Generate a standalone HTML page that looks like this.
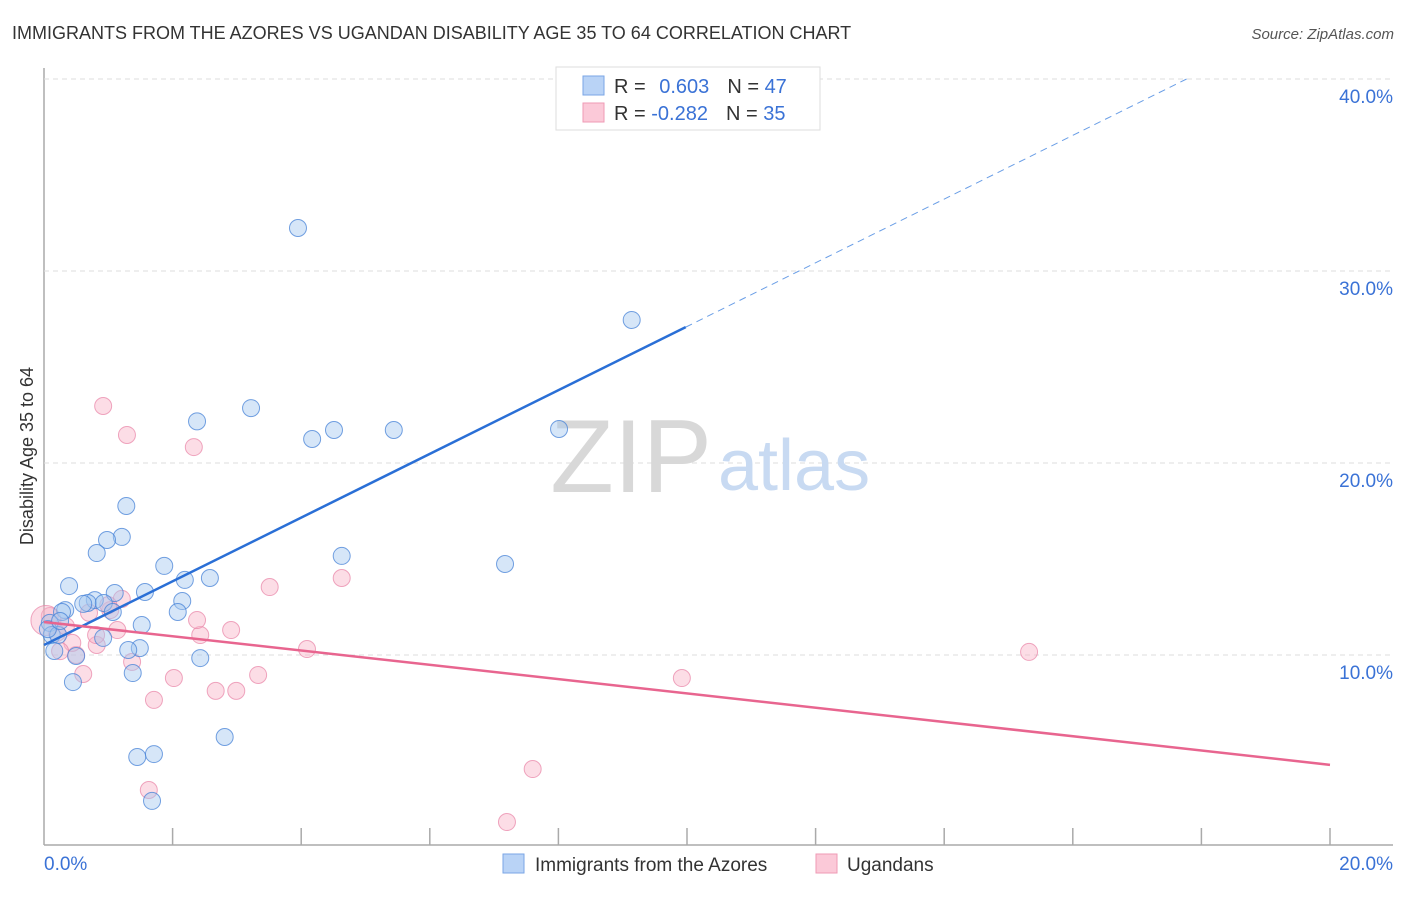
<!DOCTYPE html>
<html><head><meta charset="utf-8"><style>
body{margin:0;background:#fff;font-family:"Liberation Sans",sans-serif;}
svg text{font-family:"Liberation Sans",sans-serif;}
</style></head><body>
<svg id="chart" width="1406" height="892">
<text x="12" y="39" font-size="18" fill="#333">IMMIGRANTS FROM THE AZORES VS UGANDAN DISABILITY AGE 35 TO 64 CORRELATION CHART</text>
<text x="1394" y="39" font-size="15" fill="#555" font-style="italic" text-anchor="end">Source: ZipAtlas.com</text>
<text x="0" y="0" font-size="18" fill="#333" text-anchor="middle" transform="translate(33,456) rotate(-90)">Disability Age 35 to 64</text>
<g id="grid"></g>
<text x="712" y="492" font-size="104" fill="#d8d8d8" text-anchor="end" font-family="Liberation Serif">ZIP</text>
<text x="718" y="490" font-size="72" fill="#c8daf2">atlas</text>
<g id="points"></g>
<g id="lines"></g>
<g>
<rect x="556" y="67" width="264" height="63" fill="#fff" stroke="#ddd"/>
<rect x="583" y="76" width="21" height="19" fill="#b9d3f6" stroke="#7aa6e6"/>
<rect x="583" y="103" width="21" height="19" fill="#fbc9d8" stroke="#ef9ab5"/>
<text x="614" y="93" font-size="20" fill="#333">R = <tspan fill="#3a72d6" dx="8">0.603</tspan><tspan fill="#333" dx="18">N = </tspan><tspan fill="#3a72d6">47</tspan></text>
<text x="614" y="120" font-size="20" fill="#333">R = <tspan fill="#3a72d6">-0.282</tspan><tspan fill="#333" dx="18">N = </tspan><tspan fill="#3a72d6">35</tspan></text>
</g>
<g>
<rect x="503" y="854" width="21" height="19" fill="#b9d3f6" stroke="#7aa6e6"/>
<text x="535" y="871" font-size="19" fill="#333">Immigrants from the Azores</text>
<rect x="816" y="854" width="21" height="19" fill="#fbc9d8" stroke="#ef9ab5"/>
<text x="847" y="871" font-size="19" fill="#333">Ugandans</text>
</g>
</svg>
<script>
const yTicks=[10,20,30,40];
const yTickLabels=["10.0%","20.0%","30.0%","40.0%"];
const xTickLabels=["0.0%","20.0%"];
const blueX=[3.95,9.14,2.38,3.22,4.17,4.51,5.44,8.01,1.28,1.21,0.98,0.82,1.87,4.63,7.17,0.39,2.19,2.58,1.57,1.10,2.15,2.08,0.79,0.68,0.61,0.93,0.33,1.07,0.28,1.52,0.09,0.12,0.92,0.22,1.49,1.31,0.16,0.50,2.43,1.38,0.45,2.81,1.71,1.45,1.68,0.06,0.25];
const blueY=[32.24,27.45,22.17,22.86,21.25,21.72,21.72,21.77,17.76,16.15,15.99,15.31,14.64,15.16,14.74,13.59,13.91,14.01,13.28,13.23,12.81,12.24,12.86,12.71,12.66,12.71,12.34,12.24,12.24,11.56,11.67,11.04,10.89,11.04,10.36,10.26,10.21,9.95,9.84,9.06,8.59,5.73,4.84,4.69,2.40,11.35,11.77];
const pinkX=[0.92,1.29,2.33,3.51,4.63,15.32,9.92,7.60,7.20,1.63,1.71,3.33,2.67,2.99,2.02,1.37,4.09,2.91,2.43,2.38,1.21,1.14,1.03,0.82,0.61,0.50,0.81,0.44,0.20,0.09,0.03,0.25,0.34,1.00,0.70];
const pinkY=[22.97,21.46,20.83,13.54,14.01,10.16,8.80,4.06,1.30,2.97,7.66,8.96,8.13,8.13,8.80,9.64,10.31,11.30,11.04,11.82,12.92,11.30,12.34,10.52,9.01,10.0,11.04,10.63,11.15,12.03,11.8,10.2,11.5,12.6,12.2];
const blueFit=[10.52,1.659]; // intercept, slope
const pinkFit=[11.72,-0.372];
const X=v=>44+v*64.3, Y=v=>847-v*19.2;
const NS="http://www.w3.org/2000/svg";
function mk(t,a,p){const e=document.createElementNS(NS,t);for(const k in a)e.setAttribute(k,a[k]);p.appendChild(e);return e;}
const grid=document.getElementById('grid');
const ax=mk('line',{x1:44,y1:68,x2:44,y2:845,stroke:'#aaa','stroke-width':1.5},grid);


const bx=mk('line',{x1:44,y1:845,x2:1393,y2:845,stroke:'#aaa','stroke-width':1.5},grid);


yTicks.forEach((v,i)=>{
 const g=mk('line',{x1:44,y1:Y(v),x2:1393,y2:Y(v),stroke:'#ddd','stroke-dasharray':'5,4'},grid);
 
 
 const t=mk('text',{x:1393,y:Y(v)+24,'font-size':19,fill:'#3a72d6','text-anchor':'end'},grid);
 t.textContent=yTickLabels[i];
 
 
});
for(let i=1;i<=10;i++){
 const l=mk('line',{x1:X(i*2),y1:828,x2:X(i*2),y2:845,stroke:'#aaa','stroke-width':1.5},grid);
 
 
}
[[0,'start',44],[20,'end',1393]].forEach((d,i)=>{
 const t=mk('text',{x:d[2],y:870,'font-size':19,fill:'#3a72d6','text-anchor':d[1]},grid);
 t.textContent=xTickLabels[i];
 
 
});
const pts=document.getElementById('points');
pinkX.forEach((x,i)=>{
 const c=mk('circle',{cx:X(x),cy:Y(pinkY[i]),r:i==30?15:8.5,fill:'rgba(248,180,200,0.45)',stroke:'rgba(232,130,165,0.7)'},pts);
 
 
});
blueX.forEach((x,i)=>{
 const c=mk('circle',{cx:X(x),cy:Y(blueY[i]),r:8.5,fill:'rgba(165,200,240,0.45)',stroke:'rgba(70,130,215,0.75)'},pts);
 
 
});
const ln=document.getElementById('lines');
const bs=mk('line',{x1:X(0),y1:Y(blueFit[0]),x2:X(9.98),y2:Y(blueFit[0]+blueFit[1]*9.98),stroke:'#2a6fd6','stroke-width':2.5},ln);


const xe=(40.0-blueFit[0])/blueFit[1];
const bd=mk('line',{x1:X(9.98),y1:Y(blueFit[0]+blueFit[1]*9.98),x2:X(xe),y2:Y(blueFit[0]+blueFit[1]*xe),stroke:'#6a9ee6','stroke-width':1,'stroke-dasharray':'7,5'},ln);


const ps=mk('line',{x1:X(0),y1:Y(pinkFit[0]),x2:X(20),y2:Y(pinkFit[0]+pinkFit[1]*20),stroke:'#e8658f','stroke-width':2.5},ln);


</script>
</body></html>
